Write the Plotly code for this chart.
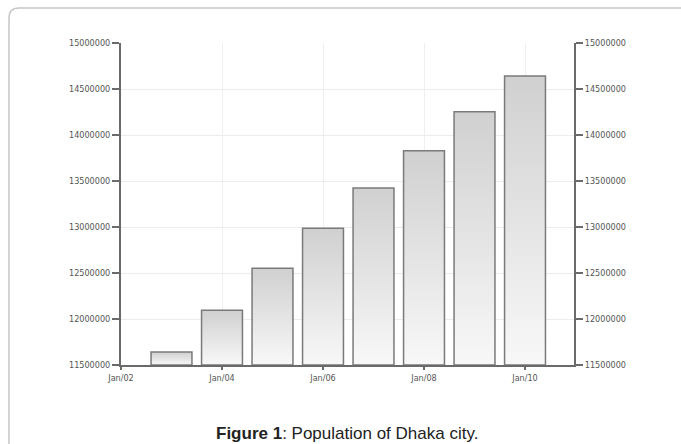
import plotly.graph_objects as go

# Population of Dhaka city, one bar per January
years = [2003, 2004, 2005, 2006, 2007, 2008, 2009, 2010]
population = [11640000, 12094000, 12551000, 12987000, 13425000, 13829000, 14254000, 14642000]

x_tick_vals = [2002, 2004, 2006, 2008, 2010]
x_tick_text = ["Jan/02", "Jan/04", "Jan/06", "Jan/08", "Jan/10"]
y_tick_vals = [11500000, 12000000, 12500000, 13000000, 13500000, 14000000, 14500000, 15000000]
y_tick_text = [str(v) for v in y_tick_vals]

Y_MIN, Y_MAX = 11500000, 15000000
BAR_W = 0.81

W, H = 681, 444
ML, MR, MT, MB = 121, 107, 43, 79

fig = go.Figure()

# each bar is a filled rectangle with its own vertical grey gradient
for yr, val in zip(years, population):
    x0, x1 = yr - BAR_W / 2, yr + BAR_W / 2
    fig.add_trace(go.Scatter(
        x=[x0, x0, x1, x1, x0],
        y=[Y_MIN, val, val, Y_MIN, Y_MIN],
        mode="lines",
        fill="toself",
        fillgradient=dict(type="vertical",
                          colorscale=[[0, "#f8f8f8"], [1, "#d0d0d0"]]),
        line=dict(color="#7a7a7a", width=1.5),
        hoverinfo="skip",
        showlegend=False,
    ))

# invisible trace to carry the mirrored right axis
fig.add_trace(go.Scatter(x=[years[0]], y=[Y_MIN], yaxis="y2", mode="markers",
                         marker=dict(opacity=0), hoverinfo="skip", showlegend=False))

tick_font = dict(family="Liberation Sans Narrow, DejaVu Sans Condensed, Arial Narrow, sans-serif",
                 size=9, color="#555555")

axis_common = dict(
    showline=True, linecolor="#6a6a6a", linewidth=2,
    ticks="outside", tickcolor="#6a6a6a", tickwidth=1.5,
    tickfont=tick_font, zeroline=False,
)

fig.update_layout(
    width=W, height=H,
    margin=dict(l=ML, r=MR, t=MT, b=MB),
    paper_bgcolor="white", plot_bgcolor="white",
    xaxis=dict(
        range=[2002, 2010.97], tickmode="array",
        tickvals=x_tick_vals, ticktext=x_tick_text,
        showgrid=True, gridcolor="#efefef", gridwidth=1,
        ticklen=3, **axis_common,
    ),
    yaxis=dict(
        range=[Y_MIN, Y_MAX], tickmode="array",
        tickvals=y_tick_vals, ticktext=y_tick_text,
        showgrid=True, gridcolor="#ececec", gridwidth=1,
        ticklen=7, **axis_common,
    ),
    yaxis2=dict(
        range=[Y_MIN, Y_MAX], tickmode="array",
        tickvals=y_tick_vals, ticktext=y_tick_text,
        overlaying="y", side="right", showgrid=False,
        ticklen=7, **axis_common,
    ),
)

# outer frame with a rounded top-left corner, in paper coordinates
pw, ph = W - ML - MR, H - MT - MB
def px(xp):
    return (xp - ML) / pw
def py(yp):
    return (H - MB - yp) / ph

r = 10
left, top, right, bottom = 9, 8, 690, 452
path = (f"M {px(left)},{py(bottom)} L {px(left)},{py(top + r)} "
        f"Q {px(left)},{py(top)} {px(left + r)},{py(top)} "
        f"L {px(right)},{py(top)} L {px(right)},{py(bottom)} Z")
fig.add_shape(type="path", path=path, xref="paper", yref="paper",
              line=dict(color="#c6c6c6", width=1.5), layer="below")

fig.add_annotation(
    text="<b>Figure 1</b>: Population of Dhaka city.",
    xref="paper", yref="paper", x=px(347), y=py(433),
    showarrow=False, xanchor="center", yanchor="middle",
    font=dict(family="Liberation Sans, Arial, sans-serif", size=17, color="#222222"),
)

fig.write_html("out.html")
